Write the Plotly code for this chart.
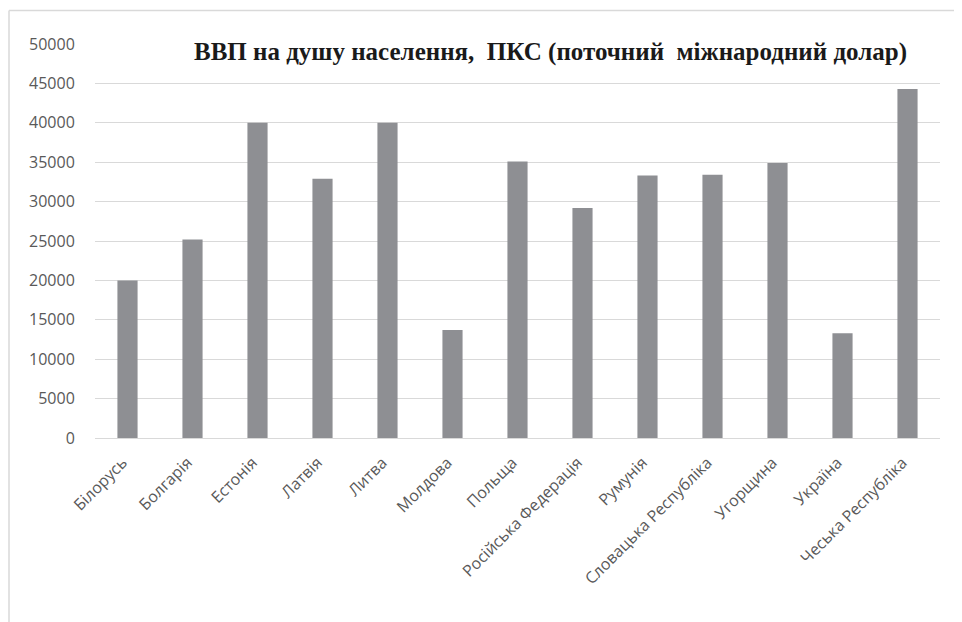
import plotly.graph_objects as go

countries = ["Білорусь", "Болгарія", "Естонія", "Латвія", "Литва", "Молдова", "Польща",
             "Російська Федерація", "Румунія", "Словацька Республіка", "Угорщина", "Україна",
             "Чеська Республіка"]
gdp_ppp = [20000, 25200, 40000, 32900, 40000, 13700, 35100, 29200, 33300, 33400, 34900, 13300, 44300]
y_ticks = [0, 5000, 10000, 15000, 20000, 25000, 30000, 35000, 40000, 45000, 50000]

title_text = "ВВП на душу населення, \u00a0ПКС (поточний \u00a0міжнародний долар)"

OFF = 8  # page body margin
W, H = 962 - OFF, 622 - OFF
L, R, T, B = 95 - OFF, 22, 43.5 - OFF, 183.5
pw, ph = W - L - R, H - T - B

def px(x):
    return (x - OFF - L) / pw

def py(y):
    return (H - B - (y - OFF)) / ph

fig = go.Figure()
fig.add_trace(go.Bar(x=countries, y=gdp_ppp, marker=dict(color="#8e8f93", line=dict(width=0))))

fig.update_layout(
    width=W, height=H,
    margin=dict(l=L, r=R, t=T, b=B, autoexpand=False),
    paper_bgcolor="white", plot_bgcolor="white",
    bargap=0.69,
    showlegend=False,
    font=dict(family="Open Sans", color="#595959", size=16),
    xaxis=dict(showgrid=False, showline=False, tickangle=-45, ticks="outside",
               ticklen=8, tickcolor="rgba(0,0,0,0)", ticklabelshift=-5,
               tickfont=dict(size=16, color="#595959")),
    yaxis=dict(range=[0, 50000], autorange=False, tickvals=y_ticks, ticktext=[str(v) for v in y_ticks],
               showgrid=True, gridcolor="#d9d9d9", gridwidth=1.3, zeroline=True, zerolinecolor="#d9d9d9",
               zerolinewidth=1.3, showline=False, ticks="outside", ticklen=16,
               tickcolor="rgba(0,0,0,0)", tickfont=dict(size=16, color="#595959")),
    shapes=[
        dict(type="line", xref="paper", yref="paper", x0=px(9), x1=px(970), y0=py(10), y1=py(10),
             line=dict(color="#d9d9d9", width=1.5)),
        dict(type="line", xref="paper", yref="paper", x0=px(9), x1=px(9), y0=py(10), y1=py(630),
             line=dict(color="#d9d9d9", width=1.5)),
    ],
    annotations=[
        dict(text="<b>" + title_text + "</b>", xref="paper", yref="paper", x=px(550), y=py(52),
             xanchor="center", yanchor="middle", showarrow=False,
             font=dict(family="Liberation Serif", size=25, color="#1a1a1a")),
    ],
)

fig.write_html("out.html")
